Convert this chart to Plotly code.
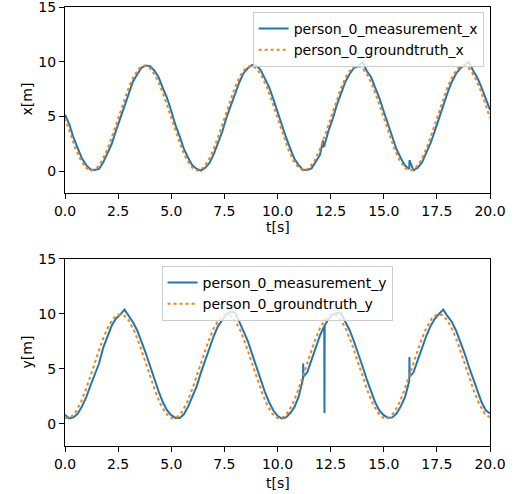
import numpy as np
import plotly.graph_objects as go

# ---------------- data ----------------
gt_t = np.round(np.arange(0, 20.001, 0.25), 2)
gt_x = [4.85, 3.37, 2.03, 0.97, 0.29, 0.05, 0.29, 0.97, 2.03, 3.37, 4.85, 6.33, 7.67, 8.73, 9.41, 9.65, 9.41, 8.73, 7.67, 6.33,
        4.85, 3.37, 2.03, 0.97, 0.29, 0.05, 0.29, 0.97, 2.03, 3.37, 4.85, 6.33, 7.67, 8.73, 9.41, 9.65, 9.41, 8.73, 7.67, 6.33,
        4.85, 3.37, 2.03, 0.97, 0.29, 0.05, 0.29, 0.97, 2.03, 3.37, 4.85, 6.33, 7.67, 8.73, 9.41, 9.65, 9.41, 8.73, 7.67, 6.33,
        4.85, 3.37, 2.03, 0.97, 0.29, 0.05, 0.29, 0.97, 2.03, 3.37, 4.85, 6.33, 7.67, 8.73, 9.41, 9.65, 9.41, 8.73, 7.67, 6.33,
        4.85]
gt_y = [0.54, 0.59, 1.09, 1.99, 3.23, 4.66, 6.14, 7.54, 8.71, 9.55, 9.96, 9.91, 9.41, 8.50, 7.27, 5.84, 4.36, 2.96, 1.79, 0.95,
        0.54, 0.59, 1.09, 1.99, 3.23, 4.66, 6.14, 7.54, 8.71, 9.55, 9.96, 9.91, 9.41, 8.50, 7.27, 5.84, 4.36, 2.96, 1.79, 0.95,
        0.54, 0.59, 1.09, 1.99, 3.23, 4.66, 6.14, 7.54, 8.71, 9.55, 9.96, 9.91, 9.41, 8.50, 7.27, 5.84, 4.36, 2.96, 1.79, 0.95,
        0.54, 0.59, 1.09, 1.99, 3.23, 4.66, 6.14, 7.54, 8.71, 9.55, 9.96, 9.91, 9.41, 8.50, 7.27, 5.84, 4.36, 2.96, 1.79, 0.95,
        0.6]

meas_t = np.round(np.arange(0, 20.001, 0.2), 2)
meas_x = [5.15, 4.3, 3.05, 2.1, 1.15, 0.55, 0.15, 0.1, 0.2, 0.8, 1.6, 2.5, 3.7, 4.8, 6.1, 7.1, 8.2, 8.85, 9.45, 9.65, 9.6, 9.2, 8.6, 7.6, 6.7,
          5.5, 4.2, 3.15, 2.0, 1.2, 0.5, 0.2, 0.05, 0.3, 0.75, 1.55, 2.6, 3.6, 4.9, 6.0, 7.2, 8.1, 8.95, 9.4, 9.7, 9.65, 9.25, 8.5, 7.7, 6.6,
          5.4, 4.3, 3.1, 2.05, 1.1, 0.55, 0.12, 0.1, 0.25, 0.85, 1.5, 2.3, 3.7, 4.8, 6.1, 7.15, 8.2, 8.9, 9.45, 9.6, 9.95, 9.15, 8.6, 7.6, 6.65,
          5.45, 4.25, 3.1, 2.0, 1.2, 0.5, 0.2, 0.08, 0.3, 0.8, 1.6, 2.55, 3.65, 4.85, 6.05, 7.15, 8.15, 8.9, 9.4, 9.7, 10.0, 9.2, 8.55, 7.65, 6.6,
          5.6]
meas_y = [0.85, 0.5, 0.6, 0.95, 1.6, 2.45, 3.5, 4.6, 5.5, 6.95, 8.0, 8.95, 9.6, 9.95, 10.4, 9.8, 9.25, 8.5, 7.5, 6.45, 5.3, 4.1, 3.0, 2.0, 1.25,
          0.8, 0.55, 0.55, 0.9, 1.6, 2.5, 3.45, 4.7, 5.85, 7.0, 8.0, 8.9, 9.5, 10.0, 10.2, 10.15, 9.3, 8.45, 7.55, 6.4, 5.2, 4.1, 2.95, 2.0, 1.25,
          0.75, 0.5, 0.6, 1.0, 1.55, 2.5, 4.1, 4.7, 5.8, 7.05, 8.05, 8.9, 9.55, 9.95, 10.1, 10.05, 9.25, 8.5, 7.5, 6.45, 5.25, 4.05, 3.0, 1.95, 1.2,
          0.8, 0.55, 0.6, 0.95, 1.6, 2.45, 3.9, 4.7, 5.8, 7.0, 8.0, 8.9, 9.55, 10.0, 10.4, 9.8, 9.3, 8.5, 7.55, 6.45, 5.25, 4.1, 3.0, 2.0, 1.25,
          0.95]

# measurement glitches (outliers)
glitch_x_t = [12.14, 12.15, 16.21]
glitch_x_v = [2.8, 2.25, 1.0]
glitch_y_t = [11.21, 11.22, 12.21, 12.22, 16.21, 16.22]
glitch_y_v = [5.5, 4.3, 1.0, 8.95, 6.1, 4.3]

x_ticks = [0.0, 2.5, 5.0, 7.5, 10.0, 12.5, 15.0, 17.5, 20.0]
y_ticks = [0, 5, 10, 15]


def merge(t, v, gt, gv):
    tt = np.concatenate([t, gt])
    vv = np.concatenate([v, gv])
    order = np.argsort(tt, kind="stable")
    return tt[order], vv[order]


mx_t, mx_v = merge(meas_t, meas_x, glitch_x_t, glitch_x_v)
my_t, my_v = merge(meas_t, meas_y, glitch_y_t, glitch_y_v)

BLUE = "#1f77b4"
ORANGE = "#ff7f0e"
FONT = "DejaVu Sans"

fig = go.Figure()
fig.add_trace(go.Scatter(x=mx_t, y=mx_v, mode="lines", name="person_0_measurement_x",
                         line=dict(color=BLUE, width=2), xaxis="x", yaxis="y", legend="legend"))
fig.add_trace(go.Scatter(x=gt_t, y=gt_x, mode="lines", name="person_0_groundtruth_x",
                         line=dict(color=ORANGE, width=2, dash="dot"), xaxis="x", yaxis="y", legend="legend"))
fig.add_trace(go.Scatter(x=my_t, y=my_v, mode="lines", name="person_0_measurement_y",
                         line=dict(color=BLUE, width=2), xaxis="x2", yaxis="y2", legend="legend2"))
fig.add_trace(go.Scatter(x=gt_t, y=gt_y, mode="lines", name="person_0_groundtruth_y",
                         line=dict(color=ORANGE, width=2, dash="dot"), xaxis="x2", yaxis="y2", legend="legend2"))

ax_common = dict(showline=True, linecolor="black", linewidth=1, mirror=True,
                 ticks="outside", ticklen=5, tickwidth=1, tickcolor="black",
                 showgrid=False, zeroline=False, ticklabeloverflow="allow",
                 tickfont=dict(family=FONT, size=14, color="black"))

xax = dict(ax_common, range=[0, 20], tickvals=x_ticks, tickformat=".1f")
yax = dict(ax_common, range=[-2, 15], tickvals=y_ticks)

legend_style = dict(bgcolor="rgba(255,255,255,0.8)", bordercolor="#cccccc", borderwidth=1,
                    font=dict(family=FONT, size=14, color="black"), itemwidth=30,
                    tracegroupgap=0)

title_font = dict(family=FONT, size=14, color="black")
annotations = [
    dict(text="t[s]", xref="paper", yref="paper", x=0.5, y=0.4989, showarrow=False,
         xanchor="center", yanchor="middle", font=title_font),
    dict(text="t[s]", xref="paper", yref="paper", x=0.5, y=-0.0843, showarrow=False,
         xanchor="center", yanchor="middle", font=title_font),
    dict(text="x[m]", xref="paper", yref="paper", x=-0.0894, y=0.7893, showarrow=False,
         xanchor="center", yanchor="middle", textangle=-90, font=title_font),
    dict(text="y[m]", xref="paper", yref="paper", x=-0.0894, y=0.2130, showarrow=False,
         xanchor="center", yanchor="middle", textangle=-90, font=title_font),
]

fig.update_layout(
    width=522, height=494,
    margin=dict(l=65, r=32, t=7, b=48, autoexpand=False),
    paper_bgcolor="white", plot_bgcolor="white",
    font=dict(family=FONT, size=14, color="black"),
    xaxis=dict(xax, domain=[0, 1], anchor="y"),
    yaxis=dict(yax, domain=[0.5763, 1], anchor="x"),
    xaxis2=dict(xax, domain=[0, 1], anchor="y2"),
    yaxis2=dict(yax, domain=[0, 0.426], anchor="x2"),
    legend=dict(legend_style, x=0.985, xanchor="right", y=0.9886, yanchor="top"),
    legend2=dict(legend_style, x=0.499, xanchor="center", y=0.41, yanchor="top"),
    annotations=annotations,
    showlegend=True,
)

fig.write_html("out.html", config={"displayModeBar": False},
               post_script="document.body.style.margin='0';document.body.style.overflow='hidden';")
